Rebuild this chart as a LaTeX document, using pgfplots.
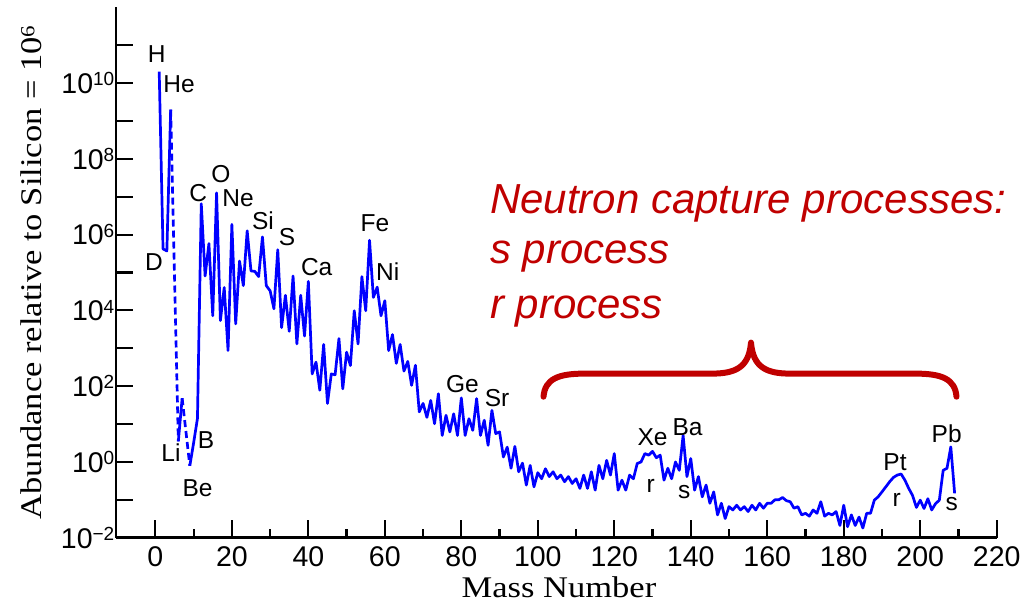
\documentclass[border=0pt]{standalone}
\usepackage{fontspec}
\setmainfont{Liberation Sans}
\newfontfamily\tnr[FakeStretch=1.15]{Liberation Serif}
\usepackage{pgfplots}
\pgfplotsset{compat=1.18}
\usepackage{pgfplotstable}
\definecolor{dblue}{RGB}{0,0,255}
\definecolor{dred}{RGB}{192,0,0}
\newcommand{\tp}[1]{10\raisebox{7.5pt}{\fontsize{19}{19}\selectfont #1}}

% abundances (Si = 1e6), mass number A
\pgfplotstableread{
A N
1 2.0e10
2 4.2e5
3 3.7e5
4 2.0e9
}\light
\pgfplotstableread{
A N
4 2.0e9
6 3.5
}\dashA
\pgfplotstableread{
A N
6 3.5
7 48
}\lithium
\pgfplotstableread{
A N
7 48
9 0.79
}\dashB
\pgfplotstableread{
A N
9 0.79
10 3.2
11 14
12 6.5e6
13 8.1e4
14 5.8e5
15 7.2e3
16 1.26e7
17 5.4e3
18 4.0e4
19 870
20 1.86e6
21 4.4e3
22 2.0e5
23 4.5e4
24 1.26e6
25 1.1e5
26 1.07e5
27 7.8e4
28 8.7e5
29 4.5e4
30 3.3e4
31 1.1e4
32 4.0e5
33 3.5e3
34 2.5e4
35 2.8e3
36 8.1e4
37 1.3e3
38 2.5e4
39 2.1e3
40 5.8e4
41 210
42 430
43 78
44 1260
45 35
46 210
47 200
48 1800
49 85
50 790
51 350
52 9.8e3
53 1.3e3
54 7.8e4
55 9.8e3
56 7.1e5
57 2.2e4
58 4.1e4
59 7.2e3
60 1.8e4
61 870
62 2.3e3
63 400
64 1260
65 250
66 450
67 105
68 355
69 21
70 35
71 15
72 42
73 10.2
74 63
75 5.0
76 17
77 6.2
78 18.6
79 5.0
80 49
81 5.0
82 13.8
83 6.8
84 47
85 5.0
86 12.6
87 2.75
88 23
89 5.6
90 6.2
91 1.35
92 2.45
93 0.68
94 2.57
95 0.55
96 0.93
97 0.245
98 0.81
99 0.22
100 0.52
101 0.36
102 0.66
103 0.41
104 0.55
105 0.36
106 0.45
107 0.30
108 0.41
109 0.27
110 0.36
111 0.20
112 0.45
113 0.20
114 0.55
115 0.18
116 0.81
117 0.36
118 1.10
119 0.45
120 1.66
121 0.18
122 0.33
123 0.18
124 0.45
125 0.36
126 0.91
127 1.0
128 1.66
129 1.51
130 1.9
131 1.29
132 1.51
133 0.33
134 0.68
135 0.36
136 1.0
137 0.60
138 5.0
139 0.41
140 1.23
141 0.18
142 0.41
143 0.12
144 0.245
145 0.081
146 0.162
147 0.040
148 0.081
149 0.032
150 0.066
151 0.054
152 0.072
153 0.054
154 0.066
155 0.049
156 0.072
157 0.054
158 0.081
159 0.060
160 0.081
161 0.081
162 0.100
163 0.100
164 0.115
165 0.095
166 0.089
167 0.060
168 0.066
169 0.040
170 0.044
171 0.037
172 0.054
173 0.044
174 0.089
175 0.037
176 0.044
177 0.040
178 0.049
179 0.021
180 0.072
181 0.0195
182 0.040
183 0.021
184 0.035
185 0.018
186 0.044
187 0.044
188 0.098
189 0.12
190 0.162
191 0.22
192 0.30
193 0.39
194 0.45
195 0.48
196 0.33
197 0.20
198 0.13
199 0.063
200 0.098
201 0.059
202 0.107
203 0.054
204 0.079
205 0.098
206 0.60
207 0.68
208 2.5
209 0.148
}\heavy

\begin{document}
\begin{tikzpicture}[x=1pt,y=1pt]
\begin{axis}[
  at={(116pt,67.3pt)}, anchor=south west,
  scale only axis, width=880.7pt, height=530.4pt,
  xmin=-10.3, xmax=220,
  ymode=log, ymin=1e-2, ymax=1e12,
  axis lines=left,
  axis line style={-, line width=2.5pt, black},
  tick align=inside,
  xtick={0,20,...,220},
  minor xtick={10,30,...,210},
  ytick={1e-2,1e-1,1,1e1,1e2,1e3,1e4,1e5,1e6,1e7,1e8,1e9,1e10,1e11},
  yminorticks=false,
  yticklabels={\tp{−2},{},\tp{0},{},\tp{2},{},\tp{4},{},\tp{6},{},\tp{8},{},\tp{10},{}},
  major tick length=17.5pt,
  minor tick length=9pt,
  tick style={black, line width=2.2pt},
  /pgf/number format/assume math mode=true,
  xticklabel style={font=\fontsize{28.5}{28.5}\selectfont, inner sep=0pt, anchor=north, yshift=-9pt},
  yticklabel style={font=\fontsize{28.5}{28.5}\selectfont, inner sep=0pt, anchor=base east, xshift=-1.5pt, yshift=-10.3pt},
  xlabel={\tnr Mass Number},
  ylabel={\tnr Abundance relative to Silicon = 10\raisebox{7pt}{\fontsize{20}{20}\selectfont 6}},
  xlabel style={font=\fontsize{30}{30}\selectfont, at={(axis description cs:0.503,-0.1118)}, anchor=base},
  ylabel style={font=\fontsize{30}{30}\selectfont, at={(axis description cs:-0.0846,0.5)}, anchor=base},
  clip=false,
]
\addplot[dblue, line width=2.7pt, line join=round] table[x=A,y=N] {\light};
\addplot[dblue, line width=2.7pt, dash pattern=on 7pt off 4pt] table[x=A,y=N] {\dashA};
\addplot[dblue, line width=2.7pt, line join=round] table[x=A,y=N] {\lithium};
\addplot[dblue, line width=2.7pt, dash pattern=on 7pt off 4pt] table[x=A,y=N] {\dashB};
\addplot[dblue, line width=2.7pt, line join=round] table[x=A,y=N] {\heavy};
\end{axis}

% element labels
\begin{scope}[every node/.style={font=\fontsize{24.5}{24.5}\selectfont, inner sep=0pt, anchor=center}]
\node at (156.7,551) {H};
\node at (179,521) {He};
\node at (154,342.5) {D};
\node at (198.3,412) {C};
\node at (220.8,431) {O};
\node at (238,407.3) {Ne};
\node at (263,384) {Si};
\node at (287,368) {S};
\node at (316.7,338) {Ca};
\node at (171,152.5) {Li};
\node at (206,165) {B};
\node at (197.5,117) {Be};
\node at (375,382) {Fe};
\node at (387.7,333.3) {Ni};
\node at (462.5,221) {Ge};
\node at (497,207) {Sr};
\node at (652.5,168.3) {Xe};
\node at (687.5,177.5) {Ba};
\node at (650.8,119.2) {r};
\node at (684.2,112.5) {s};
\node at (895,143.3) {Pt};
\node at (896.7,105) {r};
\node at (946.7,171.7) {Pb};
\node at (951.7,100.8) {s};
\end{scope}

% neutron capture annotation
\begin{scope}[every node/.style={font=\fontsize{42}{42}\selectfont\itshape, text=dred, inner sep=0pt, anchor=base west}]
\node at (490,391.4) {Neutron capture processes:};
\node at (490,341.5) {s process};
\node at (490,286.4) {r process};
\end{scope}
\draw[dred, line width=6pt, line cap=round, line join=round]
  (543.5,208.3) .. controls (545,226) and (558,231.4) .. (585,231.4)
  -- (712,231.4) .. controls (736,231.4) and (749,238) .. (751,262.4)
  .. controls (753,238) and (766,231.4) .. (790,231.4)
  -- (915,231.4) .. controls (942,231.4) and (955,226) .. (956.5,208.3);

\pgfresetboundingbox
\path (0,0) rectangle (1028,605);
\end{tikzpicture}
\end{document}
